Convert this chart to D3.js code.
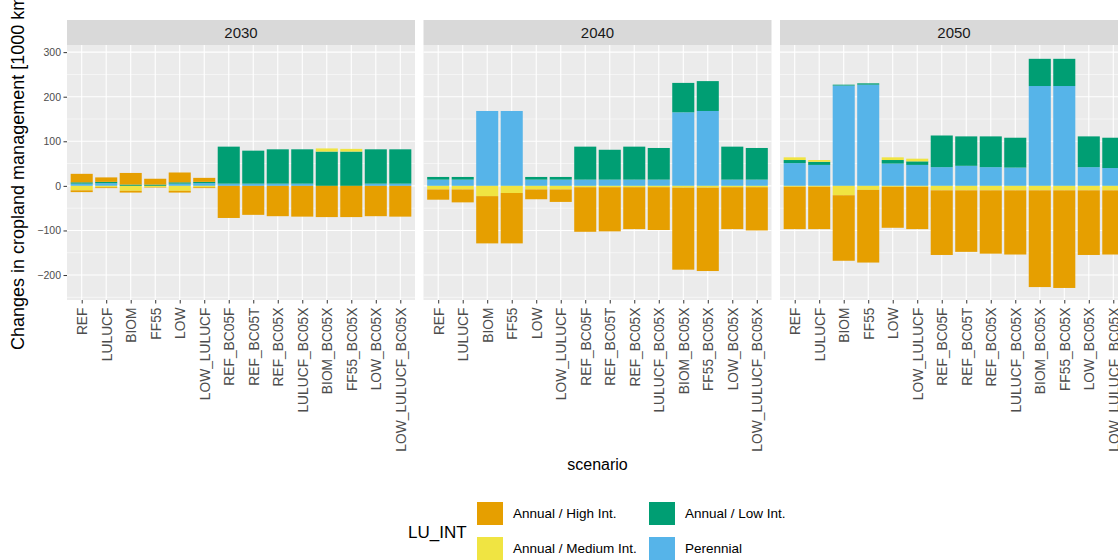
<!DOCTYPE html>
<html>
<head>
<meta charset="utf-8">
<script src="https://cdn.jsdelivr.net/npm/d3@7"></script>
<style>
    body { margin: 0; background: #fff; }
    #chart { width: 1118px; height: 560px; overflow: hidden; }
    text { font-family: "Liberation Sans", Arial, sans-serif; }
</style>
</head>
<body>
<div id="chart"></div>
<script>
// data
var years = ['2030', '2040', '2050'];
var scenarios = ['REF', 'LULUCF', 'BIOM', 'FF55', 'LOW', 'LOW_LULUCF',
    'REF_BC05F', 'REF_BC05T', 'REF_BC05X', 'LULUCF_BC05X',
    'BIOM_BC05X', 'FF55_BC05X', 'LOW_BC05X', 'LOW_LULUCF_BC05X'];
var luTypes = ['Annual / High Int.', 'Annual / Medium Int.', 'Annual / Low Int.', 'Perennial'];
var luColors = ['#E69F00', '#F0E442', '#009E73', '#56B4E9'];
var yTicks = [-200, -100, 0, 100, 200, 300];

// gains per year (rows: 2030, 2040, 2050)
var perennialGain = [
    [5, 6, 0, 0, 5, 6, 5, 5, 5, 5, 0, 0, 5, 5],
    [14, 14, 168, 168, 14, 14, 14, 14, 14, 14, 165, 168, 14, 14],
    [51, 47, 225, 227, 50, 47, 42, 45, 42, 41, 224, 224, 42, 40]
];
var lowGain = [
    [3, 3, 3, 3, 3, 3, 83, 74, 77, 77, 77, 77, 77, 77],
    [6, 6, 0, 0, 6, 6, 74, 67, 74, 71, 66, 67, 74, 71],
    [7, 7, 2, 3, 8, 8, 71, 66, 69, 67, 61, 61, 69, 68]
];
var mediumGain = [
    [0, 0, 0, 0, 0, 0, 0, 0, 0, 0, 7, 6, 0, 0],
    [0, 0, 0, 0, 0, 0, 0, 0, 0, 0, 0, 0, 0, 0],
    [6, 4, 0, 0, 6, 6, 0, 0, 0, 0, 0, 0, 0, 0]
];
var highGain = [
    [19, 10, 26, 13, 22, 9, 0, 0, 0, 0, 0, 0, 0, 0],
    [0, 0, 0, 0, 0, 0, 0, 0, 0, 0, 0, 0, 0, 0],
    [0, 0, 0, 0, 0, 0, 0, 0, 0, 0, 0, 0, 0, 0]
];
// losses per year
var mediumLoss = [
    [-10, -3, -11, -3, -11, -3, 0, 0, 0, 0, 0, 0, 0, 0],
    [-8, -8, -23, -16, -8, -8, -3, -3, -3, -3, -4, -4, -3, -3],
    [-2, -2, -21, -9, -2, -2, -10, -10, -10, -10, -10, -10, -10, -10]
];
var highLoss = [
    [-4, -2, -4, -1, -4, -2, -72, -65, -68, -69, -70, -70, -68, -69],
    [-23, -29, -106, -113, -22, -28, -100, -99, -94, -96, -184, -187, -94, -97],
    [-95, -95, -147, -163, -92, -95, -145, -138, -142, -144, -217, -219, -145, -144]
];

// stack keys, first key sits next to zero
var keys = ['per', 'low', 'med', 'high', 'medLoss', 'highLoss'];
var keyColor = {
    per: luColors[3], low: luColors[2], med: luColors[1], high: luColors[0],
    medLoss: luColors[1], highLoss: luColors[0]
};

// svg size
var width = 1118, height = 560;
var panelW = 348, panelGap = 8.5, panelLeft = 67;
var panelTop = 45, panelBottom = 300, stripTop = 20;

var svg = d3.select('#chart')
    .append('svg')
        .attr('width', width)
        .attr('height', height)
;

var x = d3.scalePoint()
    .domain(scenarios)
    .range([0, panelW])
    .padding(0.6)
;
var y = d3.scaleLinear()
    .domain([-256, 316])
    .range([panelBottom, panelTop])
;
var barW = x.step() * 0.9;
var stack = d3.stack().keys(keys).offset(d3.stackOffsetDiverging);

years.forEach(function(year, yi) {
    var px = panelLeft + yi * (panelW + panelGap);
    var g = svg.append('g').attr('transform', 'translate(' + px + ',0)');

    // panel background + grid
    g.append('rect')
        .attr('x', 0).attr('y', panelTop)
        .attr('width', panelW).attr('height', panelBottom - panelTop)
        .style('fill', '#EBEBEB');

    var minor = [-250, -150, -50, 50, 150, 250];
    g.selectAll('.minor').data(minor).enter().append('line')
        .attr('x1', 0).attr('x2', panelW)
        .attr('y1', function(d) { return y(d); })
        .attr('y2', function(d) { return y(d); })
        .style('stroke', '#fff').style('stroke-width', 0.55);
    g.selectAll('.major').data(yTicks).enter().append('line')
        .attr('x1', 0).attr('x2', panelW)
        .attr('y1', function(d) { return y(d); })
        .attr('y2', function(d) { return y(d); })
        .style('stroke', '#fff').style('stroke-width', 1.1);
    g.selectAll('.vgrid').data(scenarios).enter().append('line')
        .attr('x1', function(d) { return x(d); })
        .attr('x2', function(d) { return x(d); })
        .attr('y1', panelTop).attr('y2', panelBottom)
        .style('stroke', '#fff').style('stroke-width', 1.1);

    // strip
    g.append('rect')
        .attr('x', 0).attr('y', stripTop)
        .attr('width', panelW).attr('height', panelTop - stripTop)
        .style('fill', '#D9D9D9');
    g.append('text')
        .attr('x', panelW / 2).attr('y', (stripTop + panelTop) / 2)
        .attr('dy', '0.36em')
        .style('text-anchor', 'middle')
        .style('font-size', '15px')
        .style('fill', '#1A1A1A')
        .text(year);

    // bars
    var rows = scenarios.map(function(s, i) {
        return {
            scenario: s,
            per: perennialGain[yi][i], low: lowGain[yi][i],
            med: mediumGain[yi][i], high: highGain[yi][i],
            medLoss: mediumLoss[yi][i], highLoss: highLoss[yi][i]
        };
    });
    var series = stack(rows);

    g.append('g').selectAll('g')
        .data(series)
        .enter().append('g')
            .style('fill', function(d) { return keyColor[d.key]; })
        .selectAll('rect')
            .data(function(d) { return d; })
            .enter().append('rect')
                .attr('x', function(d) { return x(d.data.scenario) - barW / 2; })
                .attr('width', barW)
                .attr('y', function(d) { return y(Math.max(d[0], d[1])); })
                .attr('height', function(d) { return Math.abs(y(d[0]) - y(d[1])); })
    ;

    // x axis
    var xAxis = g.append('g')
        .attr('transform', 'translate(0,' + panelBottom + ')')
        .call(d3.axisBottom(x).tickSize(3.5).tickPadding(3));
    xAxis.select('.domain').remove();
    xAxis.selectAll('line').style('stroke', '#333');
    xAxis.selectAll('text')
        .attr('transform', 'rotate(-90)')
        .attr('x', -7.5)
        .attr('y', 0)
        .attr('dy', '0.36em')
        .style('text-anchor', 'end')
        .style('font-size', '13.8px')
        .style('font-family', '"Liberation Sans", Arial, sans-serif')
        .style('fill', '#4D4D4D');

    // y axis only on first panel
    if (yi === 0) {
        var yAxis = g.append('g')
            .call(d3.axisLeft(y).tickValues(yTicks).tickSize(3.5).tickPadding(2.5));
        yAxis.select('.domain').remove();
        yAxis.selectAll('line').style('stroke', '#333');
        yAxis.selectAll('text')
            .style('font-size', '10.5px')
            .style('font-family', '"Liberation Sans", Arial, sans-serif')
            .style('fill', '#4D4D4D');
    }
});

// axis titles
svg.append('text')
    .attr('transform', 'translate(24,350) rotate(-90)')
    .style('font-size', '18px')
    .style('fill', '#000')
    .html('Changes in cropland management [1000 km<tspan baseline-shift="super" font-size="11px">2</tspan>]');

svg.append('text')
    .attr('x', panelLeft + (3 * panelW + 2 * panelGap) / 2)
    .attr('y', 470)
    .style('text-anchor', 'middle')
    .style('font-size', '16px')
    .style('fill', '#000')
    .text('scenario');

// legend
var legend = svg.append('g');
legend.append('text')
    .attr('x', 408).attr('y', 532)
    .attr('dy', '0.36em')
    .style('font-size', '17px')
    .text('LU_INT');

var items = legend.selectAll('.item')
    .data(luTypes)
    .enter().append('g')
        .attr('transform', function(d, i) {
            var col = Math.floor(i / 2), row = i % 2;
            return 'translate(' + (477 + col * 172) + ',' + (502 + row * 35) + ')';
        })
;
items.append('rect')
    .attr('width', 26).attr('height', 23)
    .style('fill', function(d, i) { return luColors[i]; });
items.append('text')
    .attr('x', 36).attr('y', 11.5)
    .attr('dy', '0.36em')
    .style('font-size', '13.5px')
    .text(function(d) { return d; });
</script>
</body>
</html>
